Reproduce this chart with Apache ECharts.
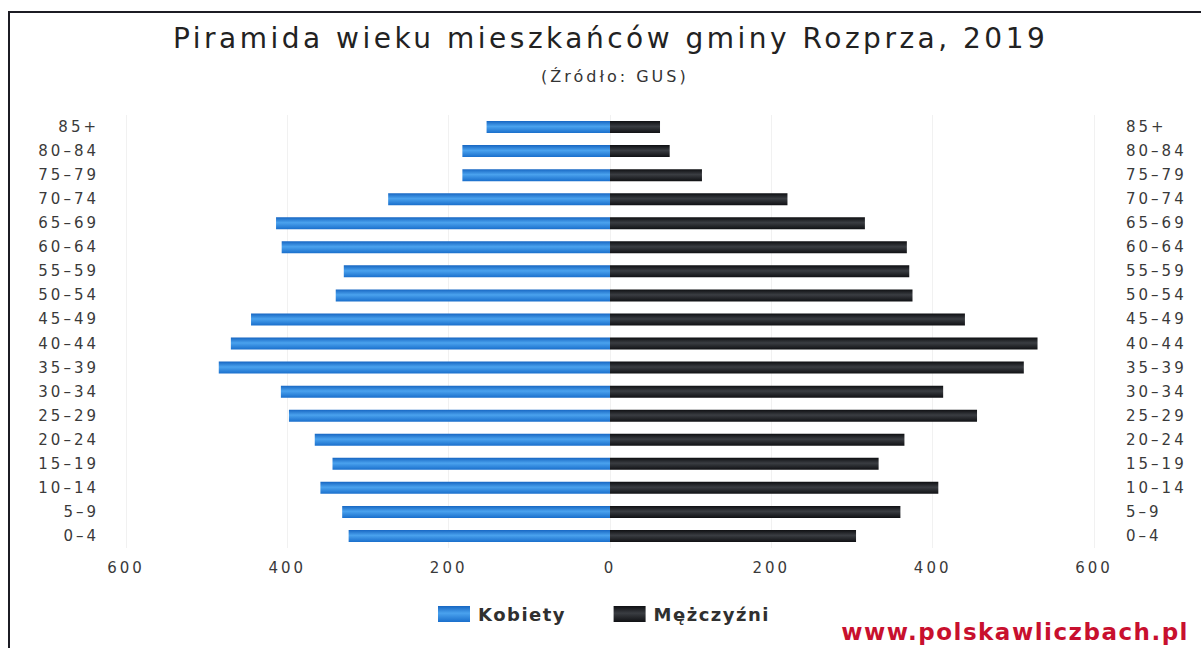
<!DOCTYPE html>
<html>
<head>
<meta charset="utf-8">
<script src="https://cdn.jsdelivr.net/npm/echarts@6.0.0/dist/echarts.min.js"></script>
<style>
    html, body {
        margin: 0;
        padding: 0;
        background: #fff;
    }
    #chart {
        position: absolute;
        left: 0;
        top: 0;
        width: 1201px;
        height: 648px;
    }
    /* rozstrzelone litery jak na oryginale */
    #chart text {
        letter-spacing: 3px;
    }
    #chart text[fill="#222"] {
        letter-spacing: 3.5px;
    }
    #chart text[fill="#303030"] {
        letter-spacing: 1.5px;
    }
    #chart text[fill="#c8102e"] {
        letter-spacing: 1.5px;
    }
    .frame {
        position: absolute;
        left: 8px;
        top: 11px;
        right: 0;
        bottom: 0;
        border-top: 2px solid #1c1c24;
        border-left: 2px solid #1c1c24;
        pointer-events: none;
    }
</style>
</head>
<body>
<div id="chart"></div>
<div class="frame"></div>
<script>
// grupy wieku, od dołu wykresu
const ageGroups = ['0–4', '5–9', '10–14', '15–19', '20–24', '25–29', '30–34', '35–39', '40–44',
    '45–49', '50–54', '55–59', '60–64', '65–69', '70–74', '75–79', '80–84', '85+']
// kobiety (rysowane w lewo)
const women = [324, 332, 359, 344, 366, 398, 408, 485, 470, 445, 340, 330, 407, 414, 275, 183, 183, 153]
// mężczyźni (rysowani w prawo)
const men = [305, 360, 407, 333, 365, 455, 413, 513, 530, 440, 375, 371, 368, 316, 220, 114, 74, 62]
const xTicks = [-600, -400, -200, 0, 200, 400, 600]

const titleText = 'Piramida wieku mieszkańców gminy Rozprza, 2019'
const subText = '(Źródło: GUS)'
const siteText = 'www.polskawliczbach.pl'

let myChart = echarts.init(document.getElementById('chart'), null, { renderer: 'svg' })

let blue = new echarts.graphic.LinearGradient(0, 0, 0, 1, [
    { offset: 0, color: '#1766c2' },
    { offset: 0.45, color: '#4aa2ee' },
    { offset: 1, color: '#1a6fcc' }
])
let dark = new echarts.graphic.LinearGradient(0, 0, 0, 1, [
    { offset: 0, color: '#0e0f12' },
    { offset: 0.45, color: '#3a3d42' },
    { offset: 1, color: '#101114' }
])

let labelStyle = {
    fontFamily: 'DejaVu Sans',
    fontSize: 15,
    color: '#3a3a3a'
}

let option = {
    backgroundColor: '#fff',
    animation: false,
    title: [
        {
            text: titleText,
            left: 168,
            top: 19,
            textStyle: {
                fontFamily: 'DejaVu Sans',
                fontSize: 28,
                fontWeight: 'normal',
                color: '#222'
            }
        },
        {
            text: subText,
            left: 536,
            top: 63,
            textStyle: {
                fontFamily: 'DejaVu Sans',
                fontSize: 16,
                fontWeight: 'normal',
                color: '#343434'
            }
        },
        {
            text: siteText,
            right: 40,
            top: 615,
            textStyle: {
                fontFamily: 'DejaVu Sans',
                fontSize: 23,
                fontWeight: 'bold',
                color: '#c8102e'
            }
        }
    ],
    legend: {
        data: ['Kobiety', 'Mężczyźni'],
        left: 433,
        top: 600,
        itemWidth: 32,
        itemHeight: 16,
        itemGap: 58,
        icon: 'rect',
        textStyle: {
            fontFamily: 'DejaVu Sans',
            fontSize: 18,
            fontWeight: 'bold',
            color: '#303030',
            padding: [0, 0, 0, 3]
        }
    },
    grid: {
        left: 126,
        right: 107,
        top: 115,
        bottom: 100
    },
    xAxis: {
        type: 'value',
        min: xTicks[0],
        max: xTicks[xTicks.length - 1],
        interval: 200,
        axisLine: { show: false },
        axisTick: { show: false },
        splitLine: { lineStyle: { color: '#f1f1f1' } },
        axisLabel: {
            ...labelStyle,
            margin: 12,
            formatter: v => Math.abs(v)
        }
    },
    yAxis: [
        {
            type: 'category',
            data: ageGroups,
            position: 'left',
            axisLine: { show: false },
            axisTick: { show: false },
            axisLabel: { ...labelStyle, margin: 27 }
        },
        {
            type: 'category',
            data: ageGroups,
            position: 'right',
            axisLine: { show: false },
            axisTick: { show: false },
            axisLabel: { ...labelStyle, margin: 32 }
        }
    ],
    series: [
        {
            name: 'Kobiety',
            type: 'bar',
            stack: 'pop',
            barWidth: 12,
            itemStyle: { color: blue },
            data: women.map(v => -v)
        },
        {
            name: 'Mężczyźni',
            type: 'bar',
            stack: 'pop',
            barWidth: 12,
            itemStyle: { color: dark },
            data: men
        }
    ]
}

myChart.setOption(option)
</script>
</body>
</html>
